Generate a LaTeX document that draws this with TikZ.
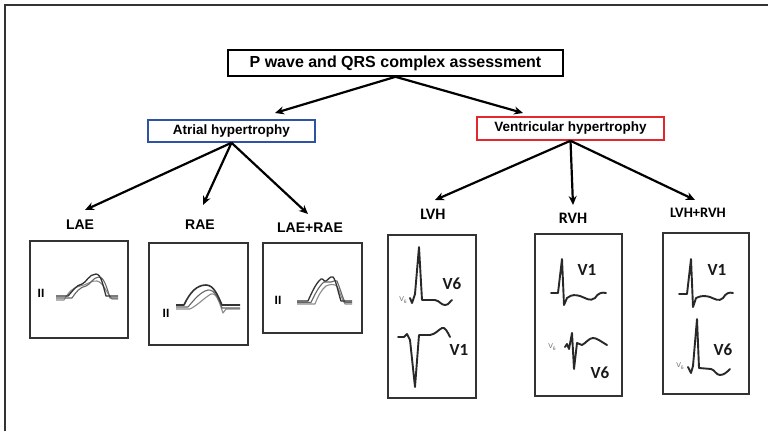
\documentclass[tikz,border=0pt]{standalone}
\usepackage{fontspec}
\setmainfont{Liberation Sans}
\newfontfamily\calibfont{Carlito}
\usetikzlibrary{arrows.meta}
\definecolor{atrialblue}{RGB}{47,82,163}
\definecolor{ventred}{RGB}{224,40,46}
\definecolor{framegray}{RGB}{51,51,51}
\definecolor{tracegray}{RGB}{40,40,40}
\begin{document}
\begin{tikzpicture}[x=1pt,y=-1pt,
  headbox/.style={draw=black,line width=1.6pt,inner sep=0pt,
    font=\fontsize{16}{16}\selectfont\bfseries},
  catbox/.style={draw,line width=1.5pt,inner sep=0pt,
    font=\fontsize{13.5}{13.5}\selectfont\bfseries},
  arr/.style={line width=2.2pt,-{Stealth[length=9pt,width=8pt]}},
  arial/.style={font=\fontsize{14}{14}\selectfont\bfseries},
  calib/.style={font=\calibfont\fontsize{16}{16}\selectfont\bfseries},
  ecgbox/.style={draw=framegray,line width=1.8pt,inner sep=0pt},
  lead/.style={font=\fontsize{12}{12}\selectfont\bfseries},
  leadname/.style={font=\calibfont\fontsize{17}{17}\selectfont\bfseries,text=black!90},
  tinylead/.style={font=\fontsize{7}{7}\selectfont,text=black!60},
  qrs/.style={draw=tracegray,line width=1.9pt,line join=round,line cap=round},
  pw1/.style={draw=black!80,line width=1.3pt,line join=round},
  pw2/.style={draw=black!60,line width=1.1pt,line join=round},
  pw3/.style={draw=black!45,line width=1.1pt,line join=round}]

\useasboundingbox (0,0) rectangle (768,431);
\fill[white] (0,0) rectangle (768,431);

% outer frame (top and left edges)
\draw[framegray,line width=2pt] (5,431) -- (5,5) -- (768,5);

% headings
\node[headbox,minimum width=335pt,minimum height=26pt] (top) at (395.5,63) {P wave and QRS complex assessment};
\node[catbox,draw=atrialblue,minimum width=167pt,minimum height=22pt] (atr) at (231.5,131) {Atrial hypertrophy};
\node[catbox,draw=ventred,minimum width=187pt,minimum height=23pt] (ven) at (570.5,128.5) {Ventricular hypertrophy};

% class labels
\node[arial] (lae) at (80,225) {LAE};
\node[arial] (rae) at (200,225) {RAE};
\node[arial] (both) at (310,228) {LAE+RAE};
\node[calib] (lvh) at (433,214) {LVH};
\node[calib] (rvh) at (573,218) {RVH};
\node[calib,font=\calibfont\fontsize{14.5}{14.5}\selectfont\bfseries] (lvrv) at (698,213) {LVH+RVH};

% arrow end points
\coordinate (tatr) at (275,113);
\coordinate (tven) at (523,113);
\coordinate (tlae) at (85,210);
\coordinate (trae) at (203,205);
\coordinate (tboth) at (308,214);
\coordinate (tlvh) at (435,200);
\coordinate (trvh) at (573,205);
\coordinate (tlvrv) at (695,200);

\draw[arr] (top.south) -- (tatr);
\draw[arr] (top.south) -- (tven);
\draw[arr] (atr.south) -- (tlae);
\draw[arr] (atr.south) -- (trae);
\draw[arr] (atr.south) -- (tboth);
\draw[arr] (ven.south) -- (tlvh);
\draw[arr] (ven.south) -- (trvh);
\draw[arr] (ven.south) -- (tlvrv);

% ECG panels
\node[ecgbox,minimum width=98pt,minimum height=97pt] (laebox) at (79,289.5) {};
\node[ecgbox,minimum width=99pt,minimum height=102pt] (raebox) at (198.5,294) {};
\node[ecgbox,minimum width=99pt,minimum height=90pt] (bothbox) at (312.5,288) {};
\node[ecgbox,minimum width=88pt,minimum height=163pt] (lvhbox) at (432,316.5) {};
\node[ecgbox,minimum width=87pt,minimum height=162pt] (rvhbox) at (578.5,315) {};
\node[ecgbox,minimum width=86pt,minimum height=161pt] (lvrvbox) at (706,313.5) {};

% lead II P waves: left atrial enlargement
\node[lead] (ii1) at (41,293) {II};
\path[pw3] (56,300) -- (64,300) .. controls (68,293) and (73,287) .. (80,286) .. controls (87,285) and (92,280) .. (97,281) .. controls (103,282) and (106,292) .. (112,299) -- (118,299);
\path[pw2] (56,298) -- (72,298) .. controls (76,292) and (80,287) .. (86,286) .. controls (90,285) and (93,277) .. (99,277) .. controls (104,277) and (107,288) .. (110,298) -- (118,298);
\path[pw1] (56,296) -- (68,296) .. controls (72,292) and (76,285) .. (82,284) .. controls (86,283) and (89,274) .. (96,274) .. controls (101,274) and (103,285) .. (106,296) -- (118,296);

% right atrial enlargement
\node[lead] (ii2) at (166,313) {II};
\path[pw3] (176,309) -- (190,309) .. controls (198,305) and (204,298) .. (211,294) .. controls (217,292) and (220,305) .. (223,313) -- (226,309) -- (240,309);
\path[pw2] (176,307) -- (188,307) .. controls (194,300) and (200,292) .. (208,290) .. controls (215,289) and (219,300) .. (222,308) -- (240,308);
\path[pw1,line width=1.6pt] (176,305) -- (184,305) .. controls (190,292) and (197,285) .. (206,285) .. controls (214,285) and (218,296) .. (222,305) -- (240,305);

% combined atrial enlargement
\node[lead] (ii3) at (278,300) {II};
\path[pw3] (297,304) -- (315,304) .. controls (318,296) and (322,289) .. (326,286) .. controls (330,284) and (334,284) .. (337,286) .. controls (340,292) and (342,300) .. (345,304) -- (352,304);
\path[pw2] (297,302.5) -- (311,302.5) .. controls (315,294) and (319,286) .. (324,282) .. controls (327,281) and (329,283) .. (331,282) .. controls (334,281) and (336,280) .. (337,281) .. controls (340,288) and (342,296) .. (345,302.5) -- (352,302.5);
\path[pw1] (297,301) -- (308,301) .. controls (312,292) and (316,283) .. (321,279) .. controls (323,278) and (324,282) .. (326,281) .. controls (328,280) and (330,276) .. (333,277) .. controls (336,280) and (338,292) .. (341,301) -- (352,301);

% LVH: V6 and V1
\node[tinylead] (lvhs) at (403,300) {V\raisebox{-1.5pt}{\fontsize{5}{5}\selectfont 6}};
\path[qrs] (410,298) -- (412,303) -- (415,294) -- (419,247) -- (422,300) -- (435,300) .. controls (440,301) and (441,305) .. (445,305) .. controls (449,305) and (450,301) .. (452,300);
\node[leadname] (lvh6) at (452,284) {V6};
\path[qrs] (398,337) -- (404,337) -- (407,334) -- (410,340) -- (415,387) -- (419,335) -- (430,335) .. controls (436,334) and (438,330) .. (442,328) .. controls (445,327) and (447,331) .. (450,337);
\node[leadname] (lvh1) at (459,350) {V1};

% RVH: V1 and V6
\path[qrs] (551,293) -- (558,293) -- (562,259) -- (564,305) -- (567,298) .. controls (572,294) and (576,295) .. (580,296) .. controls (586,298) and (590,302) .. (595,298) .. controls (598,293) and (602,292) .. (606,293);
\node[leadname] (rvh1) at (587,270) {V1};
\node[tinylead] (rvhs) at (552,347) {V\raisebox{-1.5pt}{\fontsize{5}{5}\selectfont 6}};
\path[qrs] (565,347) -- (567,344) -- (569,349) -- (572,333) -- (574,369) -- (577,343) -- (582,345) .. controls (586,343) and (589,338) .. (593,338) .. controls (597,338) and (600,341) .. (607,345);
\node[leadname] (rvh6) at (600,373) {V6};

% LVH+RVH: V1 and V6
\path[qrs] (679,294) -- (687,294) -- (691,259) -- (693,307) -- (696,298) .. controls (702,295) and (706,296) .. (710,297) .. controls (715,299) and (719,302) .. (723,298) .. controls (726,293) and (729,292) .. (733,293);
\node[leadname] (lvrv1) at (717,270) {V1};
\node[tinylead] (lvrvs) at (680,366) {V\raisebox{-1.5pt}{\fontsize{5}{5}\selectfont 6}};
\path[qrs] (688,367) -- (691,373) -- (693,366) -- (697,319) -- (699,368) -- (711,369) .. controls (715,370) and (716,375) .. (720,375) .. controls (724,375) and (727,372) .. (730,369);
\node[leadname] (lvrv6) at (723,350) {V6};

\end{tikzpicture}
\end{document}
